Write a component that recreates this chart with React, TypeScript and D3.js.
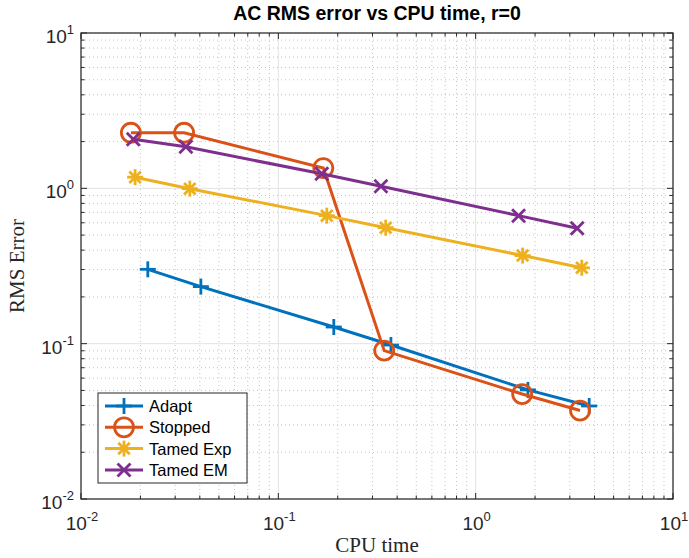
import React from "react";
import * as d3 from "d3";

const seriesNames = ["Adapt", "Stopped", "Tamed Exp", "Tamed EM"];
const seriesColors = ["#0072BD", "#D95319", "#EDB120", "#7E2F8E"];
const seriesMarkers = ["plus", "circle", "star", "cross"];

const adaptTime = [0.0218, 0.0405, 0.191, 0.372, 1.84, 3.76];
const adaptErr = [0.301, 0.233, 0.128, 0.098, 0.0504, 0.0397];
const stoppedTime = [0.0179, 0.0333, 0.169, 0.344, 1.72, 3.38];
const stoppedErr = [2.28, 2.28, 1.35, 0.0902, 0.0474, 0.0371];
const tamedExpTime = [0.0188, 0.0356, 0.176, 0.35, 1.73, 3.45];
const tamedExpErr = [1.18, 0.995, 0.667, 0.558, 0.369, 0.308];
const tamedEmTime = [0.0184, 0.034, 0.166, 0.331, 1.65, 3.27];
const tamedEmErr = [2.07, 1.85, 1.24, 1.03, 0.667, 0.553];

const decadeExps = [-2, -1, 0, 1];

const W = 689;
const H = 558;
const M = { left: 81, right: 673, top: 33, bottom: 499 };

function Marker({ kind, x, y, color }: { kind: string; x: number; y: number; color: string }) {
  const s = 8;
  if (kind === "circle") {
    return <circle cx={x} cy={y} r={9.5} fill="none" stroke={color} strokeWidth={2.8} />;
  }
  const segs: number[][] = [];
  if (kind === "plus" || kind === "star") {
    segs.push([-s, 0, s, 0], [0, -s, 0, s]);
  }
  if (kind === "cross" || kind === "star") {
    const d = kind === "star" ? s * 0.72 : 6.5;
    segs.push([-d, -d, d, d], [-d, d, d, -d]);
  }
  return (
    <g>
      {segs.map((g, i) => (
        <line key={i} x1={x + g[0]} y1={y + g[1]} x2={x + g[2]} y2={y + g[3]} stroke={color} strokeWidth={2.8} />
      ))}
    </g>
  );
}

export default function App() {
  const x = d3.scaleLog().domain([1e-2, 1e1]).range([M.left, M.right]);
  const y = d3.scaleLog().domain([1e-2, 1e1]).range([M.bottom, M.top]);

  const series = [
    { t: adaptTime, e: adaptErr },
    { t: stoppedTime, e: stoppedErr },
    { t: tamedExpTime, e: tamedExpErr },
    { t: tamedEmTime, e: tamedEmErr },
  ];

  const line = d3
    .line<[number, number]>()
    .x((d) => x(d[0]))
    .y((d) => y(d[1]));

  const majors = decadeExps.map((e) => Math.pow(10, e));
  const minors: number[] = [];
  decadeExps.slice(0, 3).forEach((e) => {
    for (let k = 2; k <= 9; k++) minors.push(k * Math.pow(10, e));
  });

  const axisColor = "#262626";
  const font = "'Liberation Sans', Arial, Helvetica, sans-serif";
  const serif = "'Liberation Serif', 'Times New Roman', serif";

  const legendX = 98;
  const legendY = 393;
  const legendRow = 21.3;

  return (
    <svg width={W} height={H} style={{ position: "absolute", left: 0, top: 0, background: "#fff" }} fontFamily={font}>
      <rect x={0} y={0} width={W} height={H} fill="#fff" />
      {/* minor grid */}
      {minors.map((v, i) => (
        <g key={"mg" + i}>
          <line x1={x(v)} x2={x(v)} y1={M.top} y2={M.bottom} stroke="#c4c4c4" strokeWidth={1} strokeDasharray="1,3" />
          <line x1={M.left} x2={M.right} y1={y(v)} y2={y(v)} stroke="#c4c4c4" strokeWidth={1} strokeDasharray="1,3" />
        </g>
      ))}
      {/* major grid */}
      {majors.map((v, i) => (
        <g key={"Mg" + i}>
          <line x1={x(v)} x2={x(v)} y1={M.top} y2={M.bottom} stroke="#e3e3e3" strokeWidth={1} />
          <line x1={M.left} x2={M.right} y1={y(v)} y2={y(v)} stroke="#e3e3e3" strokeWidth={1} />
        </g>
      ))}

      {/* series */}
      {series.map((s, i) => {
        const pts = s.t.map((t, j) => [t, s.e[j]] as [number, number]);
        return (
          <g key={"s" + i}>
            <path d={line(pts) || ""} fill="none" stroke={seriesColors[i]} strokeWidth={3} />
            {pts.map((p, j) => (
              <Marker key={j} kind={seriesMarkers[i]} x={x(p[0])} y={y(p[1])} color={seriesColors[i]} />
            ))}
          </g>
        );
      })}

      {/* ticks */}
      {minors.map((v, i) => (
        <g key={"mt" + i} stroke={axisColor} strokeWidth={1}>
          <line x1={x(v)} x2={x(v)} y1={M.bottom} y2={M.bottom - 3.5} />
          <line x1={x(v)} x2={x(v)} y1={M.top} y2={M.top + 3.5} />
          <line x1={M.left} x2={M.left + 3.5} y1={y(v)} y2={y(v)} />
          <line x1={M.right} x2={M.right - 3.5} y1={y(v)} y2={y(v)} />
        </g>
      ))}
      {majors.map((v, i) => (
        <g key={"Mt" + i} stroke={axisColor} strokeWidth={1}>
          <line x1={x(v)} x2={x(v)} y1={M.bottom} y2={M.bottom - 6} />
          <line x1={x(v)} x2={x(v)} y1={M.top} y2={M.top + 6} />
          <line x1={M.left} x2={M.left + 6} y1={y(v)} y2={y(v)} />
          <line x1={M.right} x2={M.right - 6} y1={y(v)} y2={y(v)} />
        </g>
      ))}
      <rect x={M.left} y={M.top} width={M.right - M.left} height={M.bottom - M.top} fill="none" stroke={axisColor} strokeWidth={1.2} />

      {/* tick labels */}
      {decadeExps.map((e, i) => (
        <text key={"xl" + i} x={x(Math.pow(10, e)) + 1} y={530} textAnchor="middle" fontSize={19} fill={axisColor}>
          10<tspan dy={-9} fontSize={13}>{e}</tspan>
        </text>
      ))}
      {decadeExps.map((e, i) => (
        <text key={"yl" + i} x={74} y={y(Math.pow(10, e)) + 10} textAnchor="end" fontSize={19} fill={axisColor}>
          10<tspan dy={-9} fontSize={13}>{e}</tspan>
        </text>
      ))}

      {/* title & labels */}
      <text x={(M.left + M.right) / 2} y={20} textAnchor="middle" fontSize={19.5} fontWeight="bold" fill="#000">
        AC RMS error vs CPU time, r=0
      </text>
      <text x={(M.left + M.right) / 2} y={552} textAnchor="middle" fontSize={21} fontFamily={serif} fill={axisColor}>
        CPU time
      </text>
      <text
        transform={`translate(24,${(M.top + M.bottom) / 2}) rotate(-90)`}
        textAnchor="middle"
        fontSize={21}
        fontFamily={serif}
        fill={axisColor}
      >
        RMS Error
      </text>

      {/* legend */}
      <rect x={legendX} y={legendY} width={149} height={90} fill="#fff" stroke={axisColor} strokeWidth={1} />
      {seriesNames.map((n, i) => {
        const cy = legendY + 13 + i * legendRow;
        return (
          <g key={"lg" + i}>
            <line x1={105} x2={143} y1={cy} y2={cy} stroke={seriesColors[i]} strokeWidth={3} />
            <Marker kind={seriesMarkers[i]} x={124} y={cy} color={seriesColors[i]} />
            <text x={149} y={cy + 6} fontSize={16.5} fill="#000">
              {n}
            </text>
          </g>
        );
      })}
    </svg>
  );
}
